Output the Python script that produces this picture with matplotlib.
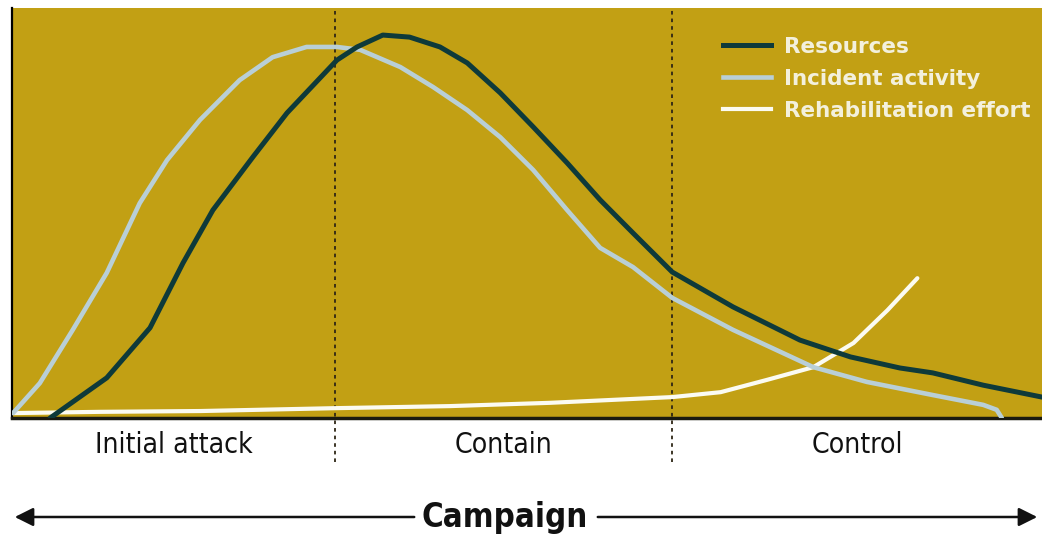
import matplotlib
matplotlib.use("Agg")
import matplotlib.pyplot as plt
from matplotlib.lines import Line2D
from matplotlib import font_manager as fm

# ---- data (time 0-100, level 0-100) ----
res_x = [3.7, 9.2, 13.4, 16.6, 19.5, 23.4, 26.7, 31.55, 33.5, 36.0, 38.6, 41.55, 44.2, 47.4,
         50.6, 53.9, 57.1, 60.3, 64.1, 70.0, 76.5, 81.4, 86.2, 89.4, 94.3, 100.0]
res_y = [0.0, 9.8, 22.0, 37.8, 50.7, 63.7, 74.4, 87.3, 90.5, 93.4, 92.9, 90.5, 86.6, 79.3,
         71.0, 62.2, 53.2, 45.1, 35.6, 27.1, 19.0, 14.9, 12.2, 11.0, 8.0, 5.1]

inc_x = [0.1, 2.7, 5.9, 9.2, 12.4, 15.05, 18.25, 22.1, 25.3, 28.6, 31.55, 33.8, 37.7, 40.9,
         44.2, 47.4, 50.6, 53.9, 57.1, 60.3, 64.1, 70.0, 77.8, 83.0, 89.4, 94.3, 95.6, 96.1]
inc_y = [1.2, 8.5, 21.5, 35.4, 52.4, 62.9, 72.7, 82.4, 88.0, 90.5, 90.5, 89.8, 85.6, 80.7,
         75.1, 68.5, 60.5, 50.7, 41.5, 36.8, 29.3, 21.5, 12.4, 8.8, 5.6, 3.2, 2.0, 0.0]

reh_x = [0.1, 8.5, 18.3, 31.4, 42.5, 52.2, 64.1, 68.8, 73.3, 77.8, 81.7, 85.0, 87.9]
reh_y = [1.2, 1.5, 1.7, 2.4, 2.9, 3.7, 5.1, 6.3, 9.3, 12.4, 18.3, 26.3, 34.1]

phase_bounds = [31.4, 64.1]
phase_labels = ["Initial attack", "Contain", "Control"]
series_names = ["Resources", "Incident activity", "Rehabilitation effort"]
axis_title = "Campaign"

BG = "#C2A014"
DARK = "#0E3A3A"
LIGHT = "#B9CFD6"
WHITE = "#FBFBF2"
TEXTC = "#F3F0DC"

# pick a narrow font if available
fonts = fm.fontManager.ttflist
if any(f.name == "Liberation Sans Narrow" for f in fonts):
    NARROW = dict(family="Liberation Sans Narrow")
    phase_fs, camp_fs = 20.5, 28
elif any(f.name == "DejaVu Sans" and f.stretch in ("condensed", "semi-condensed") for f in fonts):
    NARROW = dict(family="DejaVu Sans", fontstretch="condensed")
    phase_fs, camp_fs = 20.3, 23.7
else:
    NARROW = dict(family="DejaVu Sans")
    phase_fs, camp_fs = 18, 20.5

fig = plt.figure(figsize=(10.42, 5.38), dpi=100)
ax = fig.add_axes([12/1042, 120/538, 1030/1042, 410/538])
ax.set_facecolor(BG)
ax.set_xlim(0, 100)
ax.set_ylim(0, 100)

ax.plot(reh_x, reh_y, color=WHITE, lw=3.0, solid_capstyle="round", solid_joinstyle="round", zorder=3)
ax.plot(inc_x, inc_y, color=LIGHT, lw=3.3, solid_capstyle="round", solid_joinstyle="round", zorder=4)
ax.plot(res_x, res_y, color=DARK, lw=3.6, solid_capstyle="round", solid_joinstyle="round", zorder=5)

for b in phase_bounds:
    ax.axvline(b, ymin=-0.107, ymax=1.0, color="#2e2616", lw=1.3, ls=(0, (2, 2.2)),
               clip_on=False, zorder=2)

for s in ["top", "right"]:
    ax.spines[s].set_visible(False)
ax.spines["left"].set_color("black")
ax.spines["left"].set_linewidth(1.6)
ax.spines["bottom"].set_color("#1a1a10")
ax.spines["bottom"].set_linewidth(2.5)
ax.set_xticks([])
ax.set_yticks([])

# phase labels
edges = [0] + phase_bounds + [100]
for i, lab in enumerate(phase_labels):
    cx = (edges[i] + edges[i+1]) / 2
    ax.text(cx, -6.5, lab, ha="center", va="center", fontsize=phase_fs,
            color="#111111", transform=ax.transData, clip_on=False, **NARROW)

# legend
handles = [Line2D([], [], color=DARK, lw=3.6),
           Line2D([], [], color=LIGHT, lw=3.3),
           Line2D([], [], color=WHITE, lw=3.0)]
leg = ax.legend(handles, series_names, loc="upper left", bbox_to_anchor=(0.690, 0.930),
                frameon=False, borderpad=0, borderaxespad=0, handlelength=2.25,
                handletextpad=0.6, labelspacing=0.56,
                prop={"family": "DejaVu Sans", "weight": "bold", "size": 15.5})
for t in leg.get_texts():
    t.set_color(TEXTC)

# Campaign arrow
y_arr = (538 - 517) / 538
fig.text(505/1042, y_arr, axis_title, ha="center", va="center", fontsize=camp_fs,
         fontweight="bold", color="#111111", **NARROW)
fig.add_artist(matplotlib.patches.FancyArrowPatch((417/1042, y_arr), (12/1042, y_arr),
               transform=fig.transFigure, arrowstyle="-|>", mutation_scale=28,
               color="#111111", lw=1.8))
fig.add_artist(matplotlib.patches.FancyArrowPatch((595/1042, y_arr), (1040/1042, y_arr),
               transform=fig.transFigure, arrowstyle="-|>", mutation_scale=28,
               color="#111111", lw=1.8))

fig.savefig("out.png", dpi=100, facecolor="white")
